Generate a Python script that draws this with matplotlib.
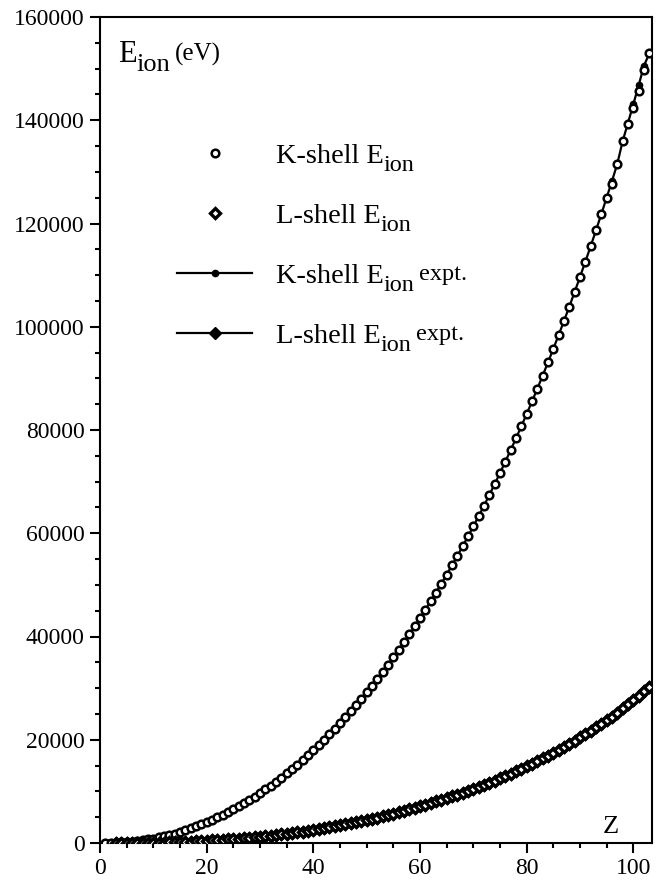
import matplotlib
matplotlib.use("Agg")
import matplotlib.pyplot as plt
from matplotlib.ticker import MultipleLocator
from matplotlib.lines import Line2D

plt.rcParams['font.family'] = ['Liberation Serif', 'DejaVu Serif']

# K-shell ionization energies (eV), Z = 1..103 (expt)
K_Z = list(range(1, 104))
K_expt = [13.6, 24.6, 54.7, 111.5, 188, 284.2, 409.9, 543.1, 696.7, 870.2,
          1070.8, 1303, 1559.6, 1839, 2145.5, 2472, 2822.4, 3205.9, 3608.4, 4038.5,
          4492, 4966, 5465, 5989, 6539, 7112, 7709, 8333, 8979, 9659,
          10367, 11103, 11867, 12658, 13474, 14326, 15200, 16105, 17038, 17998,
          18986, 20000, 21044, 22117, 23220, 24350, 25514, 26711, 27940, 29200,
          30491, 31814, 33169, 34561, 35985, 37441, 38925, 40443, 41991, 43569,
          45184, 46834, 48519, 50239, 51996, 53789, 55618, 57486, 59390, 61332,
          63314, 65351, 67416, 69525, 71676, 73871, 76111, 78395, 80725, 83102,
          85530, 88005, 90526, 93105, 95730, 98404, 101137, 103922, 106755, 109651,
          112601, 115606, 118678, 121818, 125027, 128220, 131590, 135960, 139490, 143090,
          146780, 150540, 153000]
# calculated K-shell values (differ visibly from expt only at the top)
K_calc_diff = {96: 127700, 99: 139300, 100: 142300, 101: 145600, 102: 149800}
K_calc = [K_calc_diff.get(z, e) for z, e in zip(K_Z, K_expt)]

# L-shell ionization energies (eV), Z = 3..103
L_Z = list(range(3, 104))
L_expt = [5.4, 8, 12.6, 16, 37.3, 41.6, 31, 48.5,
          63.5, 88.7, 117.8, 149.7, 189, 230.9, 270, 326.3, 378.6, 438.4,
          498, 560.9, 626.7, 696, 769.1, 844.6, 925.1, 1008.6, 1096.7, 1196.2,
          1299, 1414.6, 1527, 1652, 1782, 1921, 2065, 2216, 2373, 2532,
          2698, 2866, 3043, 3224, 3412, 3604, 3806, 4018, 4238, 4465,
          4698, 4939, 5188, 5453, 5714, 5989, 6266, 6549, 6835, 7126,
          7428, 7737, 8052, 8376, 8708, 9046, 9394, 9751, 10116, 10486,
          10870, 11271, 11682, 12100, 12527, 12968, 13419, 13880, 14353, 14839,
          15347, 15861, 16388, 16939, 17493, 18049, 18639, 19237, 19840, 20472,
          21105, 21757, 22427, 23097, 23773, 24460, 25275, 26110, 26900, 27700,
          28530, 29380, 30240]
L_calc = list(L_expt)

x_ticks = [0, 20, 40, 60, 80, 100]
y_ticks = [0, 20000, 40000, 60000, 80000, 100000, 120000, 140000, 160000]

W, H = 672, 881
fig = plt.figure(figsize=(W/100, H/100), dpi=100)
ax = fig.add_axes([100/W, 38/H, 552/W, 826/H])

style_Kexp = dict(color='black', lw=1.6, marker='o', ms=4.5, mfc='black', mec='black')
style_Lexp = dict(color='black', lw=1.6, marker='D', ms=6, mfc='black', mec='black')
style_Kcal = dict(linestyle='none', marker='o', ms=5.5, mfc='white', mec='black', mew=1.8)
style_Lcal = dict(linestyle='none', marker='D', ms=5, mfc='white', mec='black', mew=2.4)

ax.plot(K_Z, K_expt, zorder=2, **style_Kexp)
ax.plot(L_Z, L_expt, zorder=2, **style_Lexp)
ax.plot(K_Z, K_calc, zorder=3, **style_Kcal)
ax.plot(L_Z, L_calc, zorder=3, **style_Lcal)

ax.set_xlim(0, 103.5)
ax.set_ylim(0, 160000)
ax.set_xticks(x_ticks)
ax.set_yticks(y_ticks)
ax.xaxis.set_minor_locator(MultipleLocator(5))
ax.yaxis.set_minor_locator(MultipleLocator(5000))
ax.tick_params(which='major', direction='out', length=7, width=1.5, labelsize=17, pad=4)
ax.tick_params(which='minor', direction='out', length=3.6, width=1.5)
for s in ax.spines.values():
    s.set_linewidth(1.5)

renderer = fig.canvas.get_renderer()

def rich(x_px, base_px, pieces):
    """pieces: list of (text, fontsize, dy_px down, gap_px before)"""
    x = x_px
    for txt, size, dy, gap in pieces:
        x += gap
        t = fig.text(x / W, 1 - (base_px + dy) / H, txt, fontsize=size,
                     ha='left', va='baseline')
        bb = t.get_window_extent(renderer)
        x += bb.width

MAIN, SUB = 20.5, 17.5

# axis labels inside the frame
rich(118, 62, [('E', 22, 0, 0), ('ion', 19, 9, 0), ('(eV)', 18, -1, 4)])
rich(603, 833, [('Z', 19, 0, 0)])

# legend
labels = [('K-shell E', False), ('L-shell E', False), ('K-shell E', True), ('L-shell E', True)]
styles = [style_Kcal, style_Lcal, style_Kexp, style_Lexp]
marker_y = [153, 213, 273, 333]
for (lab, expt), st, my in zip(labels, styles, marker_y):
    yf = 1 - my / H
    if st.get('linestyle') == 'none':
        ln = Line2D([215 / W], [yf], transform=fig.transFigure, **st)
    else:
        ln = Line2D([177 / W, 215 / W, 252 / W], [yf, yf, yf], transform=fig.transFigure,
                    markevery=[1], **st)
    fig.add_artist(ln)
    pieces = [(lab, MAIN, 0, 0), ('ion', SUB, 8, 0)]
    if expt:
        pieces.append(('expt.', SUB, -3, 4))
    rich(276, my + 10, pieces)

fig.savefig('out.png', dpi=100)
